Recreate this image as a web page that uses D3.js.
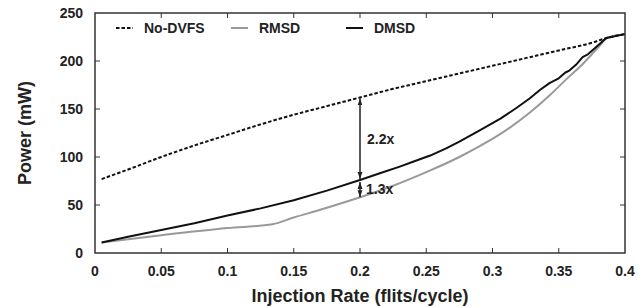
<!DOCTYPE html>
<html>
<head>
<meta charset="utf-8">
<script src="https://cdn.jsdelivr.net/npm/d3@7"></script>
<style>
  body { margin: 0; background: #fff; }
  text { font-family: "Liberation Sans", Arial, sans-serif; font-weight: bold; fill: #222; }
</style>
</head>
<body>
<svg id="chart" width="638" height="307"></svg>
<script>
// data
var noDvfs = [[0.005,77],[0.025,87],[0.05,100],[0.075,112],[0.1,123],[0.125,134],[0.15,144],
  [0.175,153],[0.2,162],[0.225,171],[0.25,179],[0.275,187],[0.3,195],[0.325,203],[0.35,211],
  [0.375,219],[0.385,223.5],[0.4,228]];
var rmsd = [[0.005,11],[0.05,18.5],[0.1,26],[0.134,30],[0.15,37],[0.17,45],[0.2,58],[0.225,70],
  [0.253,86],[0.275,100],[0.29,111],[0.306,124],[0.328,146],[0.343,164],[0.358,184],[0.366,194],
  [0.375,207],[0.381,216],[0.386,224],[0.4,228]];
var dmsd = [[0.005,11],[0.025,17],[0.05,24],[0.075,31],[0.1,39],[0.125,46.5],[0.15,55],[0.175,65],
  [0.2,76],[0.215,83],[0.23,90],[0.24,95],[0.253,101.5],[0.265,109],[0.275,116],[0.29,127.5],[0.306,140],
  [0.318,151],[0.328,161],[0.336,170],[0.343,177],[0.35,182],[0.355,188],[0.358,190],[0.363,196],
  [0.368,204],[0.372,207],[0.377,213],[0.381,218],[0.386,224],[0.4,228]];
var xTicks = [0, 0.05, 0.1, 0.15, 0.2, 0.25, 0.3, 0.35, 0.4];
var yTicks = [0, 50, 100, 150, 200, 250];
var seriesNames = ["No-DVFS", "RMSD", "DMSD"];
// annotation: gap at rate 0.2
var gapRate = 0.2;
var gapLabels = ["2.2x", "1.3x"];

var svg = d3.select("#chart");
var mLeft = 95, mRight = 625, mTop = 13, mBottom = 253;

var x = d3.scaleLinear().domain([0, 0.4]).range([mLeft, mRight]);
var y = d3.scaleLinear().domain([0, 250]).range([mBottom, mTop]);

var axisColor = "#333";

// arrow markers
var defs = svg.append("defs");
defs.append("marker")
    .attr("id", "arr")
    .attr("viewBox", "0 0 10 10")
    .attr("refX", 10).attr("refY", 5)
    .attr("markerWidth", 7).attr("markerHeight", 7)
    .attr("orient", "auto-start-reverse")
    .attr("markerUnits", "userSpaceOnUse")
  .append("path")
    .attr("d", "M0,1.5L10,5L0,8.5Z")
    .attr("fill", "#222");

// ticks on all four sides, pointing inward
var tl = 5;
svg.append("g").selectAll("line").data(xTicks.slice(1, -1)).enter().append("line")
    .attr("x1", function(d){ return x(d); }).attr("x2", function(d){ return x(d); })
    .attr("y1", mBottom).attr("y2", mBottom - tl)
    .attr("stroke", axisColor).attr("stroke-width", 1);
svg.append("g").selectAll("line").data(xTicks.slice(1, -1)).enter().append("line")
    .attr("x1", function(d){ return x(d); }).attr("x2", function(d){ return x(d); })
    .attr("y1", mTop).attr("y2", mTop + tl)
    .attr("stroke", axisColor).attr("stroke-width", 1);
svg.append("g").selectAll("line").data(yTicks.slice(1, -1)).enter().append("line")
    .attr("y1", function(d){ return y(d); }).attr("y2", function(d){ return y(d); })
    .attr("x1", mLeft).attr("x2", mLeft + tl)
    .attr("stroke", axisColor).attr("stroke-width", 1);
svg.append("g").selectAll("line").data(yTicks.slice(1, -1)).enter().append("line")
    .attr("y1", function(d){ return y(d); }).attr("y2", function(d){ return y(d); })
    .attr("x1", mRight).attr("x2", mRight - tl)
    .attr("stroke", axisColor).attr("stroke-width", 1);

// tick labels
svg.append("g").selectAll("text").data(xTicks).enter().append("text")
    .attr("x", function(d){ return x(d); }).attr("y", 276)
    .attr("text-anchor", "middle").attr("font-size", 14)
    .text(function(d){ return d3.format("")(d); });
svg.append("g").selectAll("text").data(yTicks).enter().append("text")
    .attr("x", 83).attr("y", function(d){ return y(d) + 5; })
    .attr("text-anchor", "end").attr("font-size", 14)
    .text(function(d){ return d; });

// axis titles
svg.append("text")
    .attr("x", (mLeft + mRight) / 2).attr("y", 302)
    .attr("text-anchor", "middle").attr("font-size", 18)
    .text("Injection Rate (flits/cycle)");
svg.append("text")
    .attr("transform", "translate(31," + ((mTop + mBottom) / 2) + ") rotate(-90)")
    .attr("text-anchor", "middle").attr("font-size", 18)
    .text("Power (mW)");

// lines
var line = d3.line()
    .x(function(d){ return x(d[0]); })
    .y(function(d){ return y(d[1]); });
var smooth = d3.line()
    .curve(d3.curveMonotoneX)
    .x(function(d){ return x(d[0]); })
    .y(function(d){ return y(d[1]); });

svg.append("path").datum(rmsd)
    .attr("d", smooth).attr("fill", "none")
    .attr("stroke", "#999").attr("stroke-width", 2);
svg.append("path").datum(dmsd)
    .attr("d", line).attr("fill", "none")
    .attr("stroke", "#111").attr("stroke-width", 2)
    .attr("stroke-linejoin", "round");
svg.append("path").datum(noDvfs)
    .attr("d", smooth).attr("fill", "none")
    .attr("stroke", "#111").attr("stroke-width", 2)
    .attr("stroke-dasharray", "3.5,2");

// frame
svg.append("rect")
    .attr("x", mLeft).attr("y", mTop)
    .attr("width", mRight - mLeft).attr("height", mBottom - mTop)
    .attr("fill", "none").attr("stroke", axisColor).attr("stroke-width", 1.5);

// gap annotations
function valueAt(series, r) {
  for (var i = 1; i < series.length; i++) {
    if (series[i][0] >= r) {
      var a = series[i-1], b = series[i];
      return a[1] + (b[1] - a[1]) * (r - a[0]) / (b[0] - a[0]);
    }
  }
  return series[series.length - 1][1];
}
var vN = valueAt(noDvfs, gapRate), vD = valueAt(dmsd, gapRate), vR = valueAt(rmsd, gapRate);
var ax = x(gapRate);
svg.append("line")
    .attr("x1", ax).attr("x2", ax).attr("y1", y(vN) + 1).attr("y2", y(vD) - 1)
    .attr("stroke", "#222").attr("stroke-width", 1.5)
    .attr("marker-start", "url(#arr)").attr("marker-end", "url(#arr)");
svg.append("line")
    .attr("x1", ax).attr("x2", ax).attr("y1", y(vD) + 2).attr("y2", y(vR))
    .attr("stroke", "#222").attr("stroke-width", 1.5)
    .attr("marker-start", "url(#arr)").attr("marker-end", "url(#arr)");
svg.append("text")
    .attr("x", ax + 7).attr("y", y((vN + vD) / 2) + 5)
    .attr("font-size", 14).text(gapLabels[0]);
svg.append("text")
    .attr("x", ax + 6).attr("y", y((vD + vR) / 2) + 5)
    .attr("font-size", 14).text(gapLabels[1]);

// legend
var legend = svg.append("g");
var legX = [116, 231, 346];
var legStyles = [
  { stroke: "#111", dash: "3.5,2" },
  { stroke: "#999", dash: null },
  { stroke: "#111", dash: null }
];
seriesNames.forEach(function(name, i) {
  legend.append("line")
      .attr("x1", legX[i]).attr("x2", legX[i] + 17)
      .attr("y1", 28).attr("y2", 28)
      .attr("stroke", legStyles[i].stroke).attr("stroke-width", 2)
      .attr("stroke-dasharray", legStyles[i].dash);
  legend.append("text")
      .attr("x", legX[i] + 28).attr("y", 33)
      .attr("font-size", 14).text(name);
});
</script>
</body>
</html>
